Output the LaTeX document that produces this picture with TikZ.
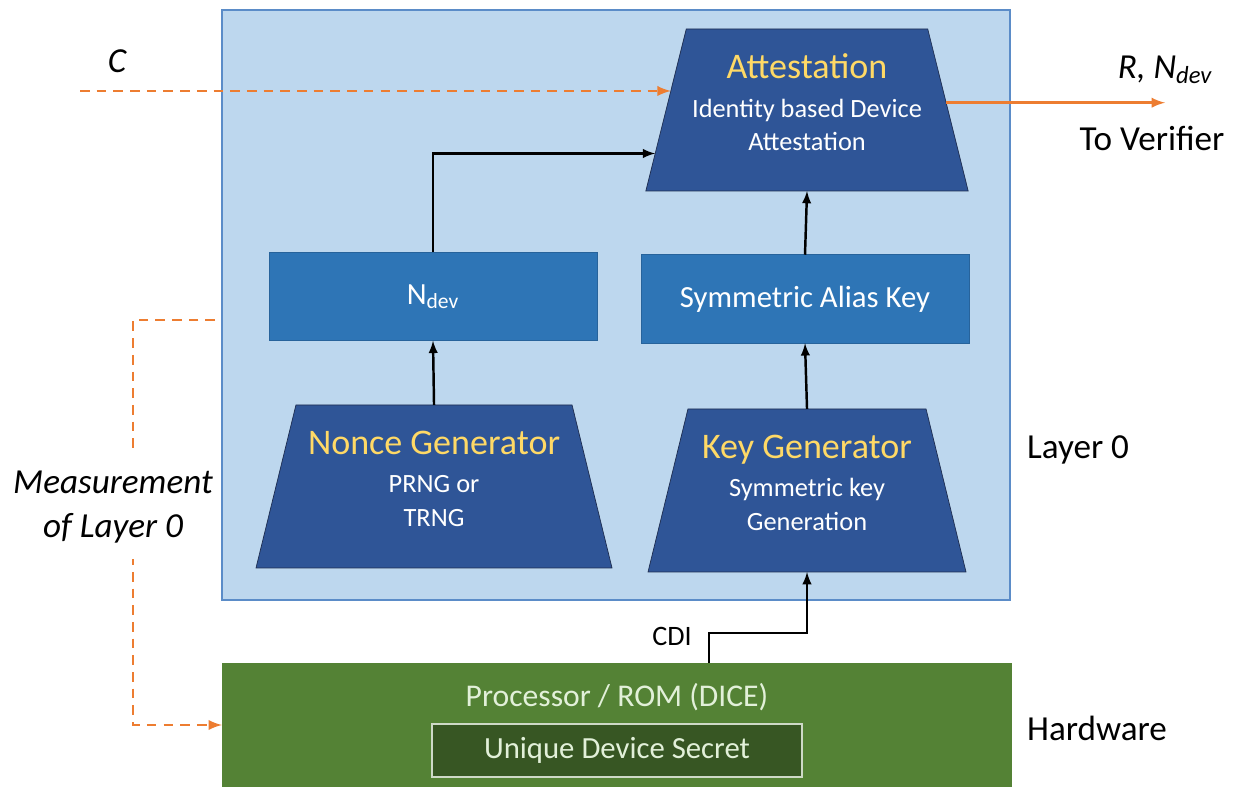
\documentclass[tikz,border=0pt]{standalone}
\usepackage{fontspec}
\setmainfont{Carlito}
\usetikzlibrary{arrows,shapes.geometric}

\definecolor{layerfill}{RGB}{189,215,238}
\definecolor{layerline}{RGB}{91,140,200}
\definecolor{trapfill}{RGB}{47,85,151}
\definecolor{trapline}{RGB}{30,45,80}
\definecolor{boxfill}{RGB}{46,117,182}
\definecolor{titleyellow}{RGB}{255,217,102}
\definecolor{hwgreen}{RGB}{84,130,53}
\definecolor{hwdark}{RGB}{55,86,35}
\definecolor{hwtext}{RGB}{226,240,217}
\definecolor{sigorange}{RGB}{237,125,49}

\begin{document}
\begin{tikzpicture}[>=latex,
  trap/.style={trapezium,trapezium stretches body,trapezium left angle=72,
    trapezium right angle=72,draw=trapline,fill=trapfill,outer sep=0pt,
    minimum width=6.36cm,minimum height=3.24cm,align=center,text=white,
    font=\fontsize{15}{19}\selectfont},
  keybox/.style={rectangle,fill=boxfill,draw=boxfill!85!black,outer sep=0pt,
    minimum width=6.56cm,minimum height=1.77cm,text=white,
    font=\fontsize{17.5}{21}\selectfont},
  wire/.style={line width=1.4pt},
  sig/.style={line width=1.6pt,draw=sigorange},
  sigdash/.style={sig,dash pattern=on 5.5pt off 4pt},
  side/.style={font=\fontsize{20}{24}\selectfont}]

\useasboundingbox (0,0) rectangle (24.78,15.74);

% LAYERS

% Layer 0.
\node[rectangle,fill=layerfill,draw=layerline,line width=0.6pt,
  minimum width=15.76cm,minimum height=11.8cm] (layer) at (12.32,9.64) {};
\node[side] (layerlbl) at (21.56,6.74) {Layer 0};

% Hardware.
\node[rectangle,fill=hwgreen,minimum width=15.8cm,minimum height=2.48cm,
  outer sep=0pt] (hw) at (12.34,1.24) {};
\node[text=hwtext,font=\fontsize{18}{22}\selectfont] (dice) at (12.34,1.8)
  {Processor / ROM (DICE)};
\node[rectangle,fill=hwdark,draw=hwtext!80!gray,line width=1pt,
  minimum width=7.4cm,minimum height=1.06cm,text=hwtext,
  font=\fontsize{17.5}{21}\selectfont] (uds) at (12.34,0.73)
  {Unique Device Secret};
\node[side] (hwlbl) at (21.94,1.18) {Hardware};

% BLOCKS

% Attestation.
\node[trap] (att) at (16.14,13.54)
  {{\fontsize{20.5}{24}\selectfont\color{titleyellow}Attestation}\\[3pt]
   Identity based Device\\ Attestation\\[-10pt]\mbox{}};

% Nonce generator.
\node[trap,minimum width=7.12cm,minimum height=3.26cm] (nonce) at (8.68,6.01)
  {{\fontsize{20.5}{24}\selectfont\color{titleyellow}Nonce Generator}\\[3pt]
   PRNG or\\ TRNG\\[-10pt]\mbox{}};

% Key generator.
\node[trap,minimum height=3.26cm] (keygen) at (16.14,5.93)
  {{\fontsize{20.5}{24}\selectfont\color{titleyellow}Key Generator}\\[3pt]
   Symmetric key\\ Generation\\[-10pt]\mbox{}};

% Nonce and alias key.
\node[keybox] (ndev) at (8.66,9.81) {N\textsubscript{dev}};
\node[keybox] (alias) at (16.1,9.76) {Symmetric Alias Key};

% CONNECTIONS

% Inside layer 0.
\draw[wire,->] (nonce.north) -- (ndev.south);
\draw[wire,->] (ndev.north) |- (att.196);
\draw[wire,->] (keygen.north) -- (alias.south);
\draw[wire,->] (alias.north) -- (att.south);

% CDI from hardware.
\coordinate (cdi) at (14.18,2.48);
\draw[wire,->] (cdi) -- ++(0,0.6) -| (keygen.south);
\node[font=\fontsize{16}{19}\selectfont] (cdilbl) at (13.44,3.02) {CDI};

% Challenge in.
\coordinate (cin) at (1.6,13.92);
\draw[sigdash,->] (cin) -- (cin -| att.172);
\node[side,font=\fontsize{20}{24}\selectfont\itshape] (clbl) at (2.34,14.52) {C};

% Response out.
\coordinate (vout) at (23.3,13.68);
\draw[sig,->] (att.3) -- (att.3 -| vout);
\node[side,font=\fontsize{20}{24}\selectfont\itshape] (rlbl) at (23.3,14.34)
  {R, N\textsubscript{dev}};
\node[side] (verlbl) at (23.04,12.98) {To Verifier};

% Measurement of layer 0.
\coordinate (mstart) at (4.3,9.34);
\coordinate (mcorner) at (2.66,1.24);
\draw[sigdash,->] (mstart) -| (mcorner) |- (hw.west);
\node[fill=white,inner xsep=2pt,inner ysep=0.3cm,align=center,
  font=\fontsize{20}{25.5}\selectfont\itshape] (meas) at (2.26,5.6)
  {Measurement\\ of Layer 0};

\end{tikzpicture}
\end{document}
